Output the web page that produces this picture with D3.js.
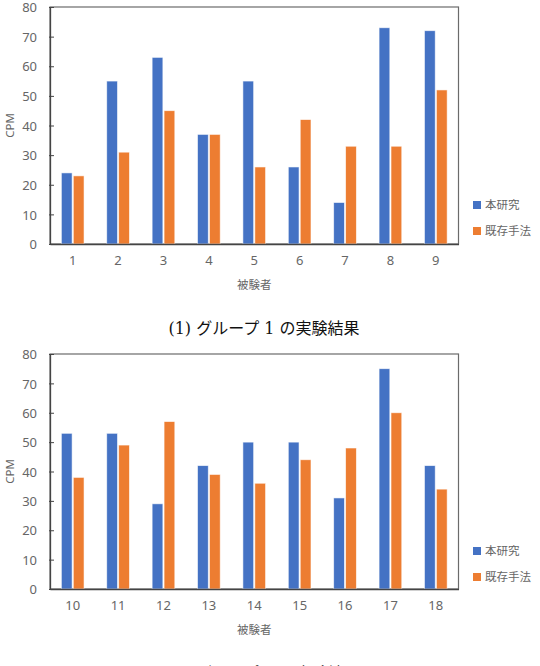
<!DOCTYPE html>
<html><head><meta charset="utf-8">
<script src="https://cdn.jsdelivr.net/npm/d3@7"></script>
<style>
html,body{margin:0;padding:0;background:#fff;}
svg{display:block;}
</style></head>
<body>
<svg id="c" width="540" height="666"></svg>
<script>
const seriesNames = ["本研究", "既存手法"];
const colors = ["#4472C4", "#ED7D31"];
const yTicks = [0, 10, 20, 30, 40, 50, 60, 70, 80];

const categories1 = ["1","2","3","4","5","6","7","8","9"];
const proposed1 = [24, 55, 63, 37, 55, 26, 14, 73, 72];
const existing1 = [23, 31, 45, 37, 26, 42, 33, 33, 52];

const categories2 = ["10","11","12","13","14","15","16","17","18"];
const proposed2 = [53, 53, 29, 42, 50, 50, 31, 75, 42];
const existing2 = [38, 49, 57, 39, 36, 44, 48, 60, 34];

const captions = ["(1) グループ 1 の実験結果", "(2) グループ 2 の実験結果"];

const svg = d3.select("#c");
const sans = "'Noto Sans CJK JP', 'Noto Sans', sans-serif";
const digits = "'Noto Sans', 'Noto Sans CJK JP', sans-serif";
const serif = "'DejaVu Serif', 'Liberation Serif', 'Noto Sans CJK JP', serif";
const grey = "#666666";

function drawChart(cats, a, b, top, bottom, caption, legendY) {
  const left = 50, right = 458.5;
  const g = svg.append("g");
  const x0 = d3.scaleBand().domain(cats).range([left, right]).paddingInner(0.5).paddingOuter(0.25);
  const x1 = d3.scaleBand().domain([0, 1]).range([0, x0.bandwidth()]).paddingInner(0.1);
  const y = d3.scaleLinear().domain([0, 80]).range([bottom, top]);

  g.append("rect").attr("x", left).attr("y", top).attr("width", right - left).attr("height", bottom - top)
    .attr("fill", "none").attr("stroke", "#6b6b6b").attr("stroke-width", 1.2);

  const rows = cats.map((c, i) => ({c, v: [a[i], b[i]]}));
  const grp = g.selectAll("g.grp").data(rows).join("g").attr("transform", d => `translate(${x0(d.c)},0)`);
  grp.selectAll("rect").data(d => d.v.map((v, k) => ({v, k}))).join("rect")
    .attr("x", d => x1(d.k)).attr("width", x1.bandwidth())
    .attr("y", d => y(d.v)).attr("height", d => y(0) - y(d.v))
    .attr("fill", d => colors[d.k]).attr("stroke", "#ffffff").attr("stroke-width", 0.8).attr("stroke-opacity", 0.7);

  const ya = d3.axisLeft(y).tickValues(yTicks).tickSize(0).tickPadding(13);
  const yg = g.append("g").attr("transform", `translate(${left},0)`).call(ya);
  yg.select(".domain").attr("stroke", "#444").attr("stroke-width", 1.3);
  yg.selectAll("text").attr("fill", grey).attr("dy", "0.36em").style("font-family", digits).style("font-size", "13px");
  yg.selectAll(".tick").append("line").attr("x1", -1).attr("x2", 4).attr("stroke", "#444");

  const xa = d3.axisBottom(x0).tickSize(0).tickPadding(12);
  const xg = g.append("g").attr("transform", `translate(0,${bottom})`).call(xa);
  xg.select(".domain").attr("stroke", "#444").attr("stroke-width", 1.5);
  xg.selectAll("text").attr("fill", grey).style("font-family", digits).style("font-size", "13px");

  g.append("text").attr("transform", `translate(14,${(top + bottom) / 2}) rotate(-90)`)
    .attr("text-anchor", "middle").attr("fill", grey).style("font-family", digits).style("font-size", "11.5px").text("CPM");
  g.append("text").attr("x", (left + right) / 2).attr("y", bottom + 45)
    .attr("text-anchor", "middle").attr("fill", grey).style("font-family", sans).style("font-size", "11.5px").text("被験者");

  seriesNames.forEach((n, k) => {
    const ly = legendY + k * 26;
    g.append("rect").attr("x", 473).attr("y", ly - 4).attr("width", 8).attr("height", 8).attr("fill", colors[k]);
    g.append("text").attr("x", 485).attr("y", ly).attr("dy", "0.35em").attr("fill", grey)
      .style("font-family", sans).style("font-size", "11.5px").text(n);
  });

  svg.append("text").attr("x", 264).attr("y", bottom + 90).attr("text-anchor", "middle").attr("fill", "#111")
    .style("font-family", serif).style("font-size", "16px").text(caption);
}

drawChart(categories1, proposed1, existing1, 7, 244, captions[0], 205);
drawChart(categories2, proposed2, existing2, 354, 589, captions[1], 551);
</script>
</body></html>
